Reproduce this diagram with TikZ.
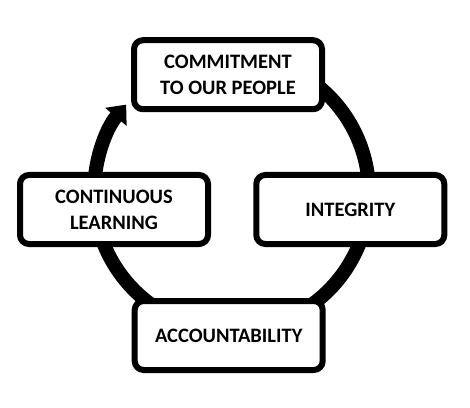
\documentclass[tikz,border=0pt]{standalone}
\usepackage{fontspec}
\setmainfont{Carlito}
\usetikzlibrary{arrows.meta,calc}
\tikzset{
  valuebox/.style={draw=black, fill=white, line width=6pt, rounded corners=9pt,
    minimum width=188pt, minimum height=69pt, inner sep=0pt, align=center,
    font=\fontsize{20.5}{26}\selectfont\bfseries, text=black},
  ring/.style={draw=black, line width=14pt, -{Triangle[width=27pt,length=16pt]}}
}
\begin{document}
\begin{tikzpicture}[x=1pt,y=1pt]
\fill[white] (0,0) rectangle (470,407);
\useasboundingbox (0,0) rectangle (470,407);
\coordinate (c) at (231.5,214);
\coordinate (ringstart) at ($(c)+(60:137.5)$);
\draw[ring] (ringstart) arc[start angle=60, end angle=-220, radius=137.5];
\node[valuebox] (commit) at (228,332.3) {COMMITMENT\\TO OUR PEOPLE};
\node[valuebox] (learn) at (114,197.5) {CONTINUOUS\\LEARNING};
\node[valuebox] (integ) at (350.3,197.5) {INTEGRITY};
\node[valuebox] (acct) at (228.7,71.5) {ACCOUNTABILITY};
\end{tikzpicture}
\end{document}
